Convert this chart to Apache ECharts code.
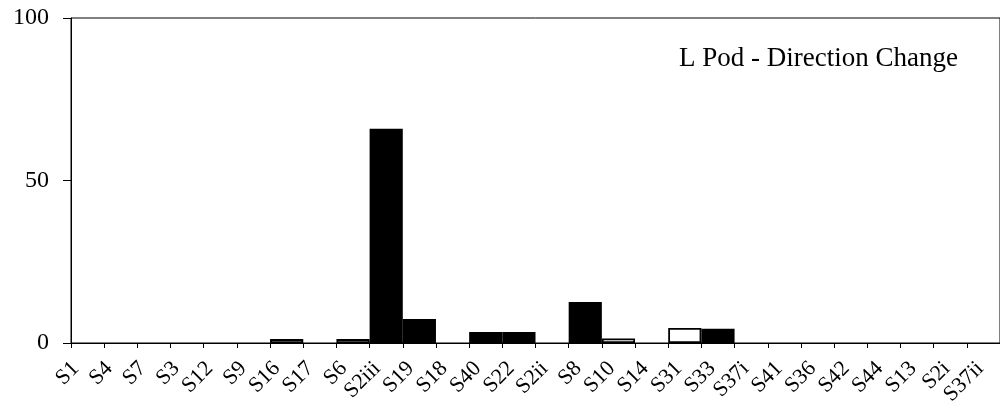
<!DOCTYPE html>
<html>
<head>
<meta charset="utf-8">
<script src="https://cdn.jsdelivr.net/npm/echarts@6/dist/echarts.min.js"></script>
<style>
html,body{margin:0;padding:0;background:#fff;}
#chart{width:1000px;height:408px;}
</style>
</head>
<body>
<div id="chart"></div>
<script>
const categories = ['S1','S4','S7','S3','S12','S9','S16','S17','S6','S2iii','S19','S18','S40','S22','S2ii','S8','S10','S14','S31','S33','S37i','S41','S36','S42','S44','S13','S2i','S37ii'];
const openValues =   [null,null,null,null,null,null,1.2,null,1.2,null,null,null,null,null,null,null,1.4,null,4.6,null,null,null,null,null,null,null,null,null];
const filledValues = [null,null,null,null,null,null,null,null,null,65.9,7.4,null,3.4,3.4,null,12.6,null,null,null,4.4,null,null,null,null,null,null,null,null];
const yTicks = [0, 50, 100];
const titleText = 'L Pod - Direction Change';

const FONT = '"Liberation Serif", "Times New Roman", serif';
const chart = echarts.init(document.getElementById('chart'), null, {renderer: 'canvas'});
chart.setOption({
  animation: false,
  backgroundColor: '#ffffff',
  title: {
    text: titleText,
    right: 37, top: 40,
    textStyle: {fontFamily: FONT, fontSize: 27, fontWeight: 'normal', color: '#000'}
  },
  grid: [
    {left: 71, top: 18, width: 938, height: 325, show: true, borderColor: '#000', borderWidth: 1, backgroundColor: 'transparent'},
    {left: 59, top: 18, width: 938, height: 325, show: false}
  ],
  xAxis: [
    {
      type: 'category', gridIndex: 0, data: categories, boundaryGap: true,
      axisLine: {show: true, lineStyle: {color: '#000', width: 1}},
      axisTick: {show: true, length: 5, interval: 0, lineStyle: {color: '#000'}},
      axisLabel: {show: false},
      splitLine: {show: false}
    },
    {
      type: 'category', gridIndex: 1, data: categories, boundaryGap: true,
      axisLine: {show: false}, axisTick: {show: false},
      axisLabel: {show: true, interval: 0, rotate: 45, margin: 32, hideOverlap: false,
        fontFamily: FONT, fontSize: 22, color: '#000'},
      splitLine: {show: false}
    }
  ],
  yAxis: [
    {
      type: 'value', gridIndex: 0, min: yTicks[0], max: yTicks[yTicks.length - 1], interval: 50,
      axisLine: {show: true, lineStyle: {color: '#000', width: 1}},
      axisTick: {show: true, length: 8, lineStyle: {color: '#000'}},
      axisLabel: {fontFamily: FONT, fontSize: 24, color: '#000', margin: 22},
      splitLine: {show: false}
    },
    {type: 'value', gridIndex: 1, min: 0, max: 100, show: false}
  ],
  series: [
    {
      name: 'open', type: 'bar', xAxisIndex: 0, yAxisIndex: 0, data: openValues,
      barCategoryGap: 0, barGap: '-100%',
      itemStyle: {color: '#ffffff', borderColor: '#000', borderWidth: 1.8}
    },
    {
      name: 'filled', type: 'bar', xAxisIndex: 0, yAxisIndex: 0, data: filledValues,
      barCategoryGap: 0, barGap: '-100%',
      itemStyle: {color: '#000000', borderColor: '#000', borderWidth: 0}
    }
  ]
});
</script>
</body>
</html>
